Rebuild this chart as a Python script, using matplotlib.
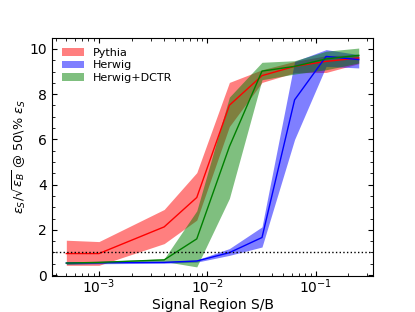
import numpy as np
import matplotlib
matplotlib.use('Agg')
import matplotlib.pyplot as plt

# signal region S/B values
sb = [5e-4, 1e-3, 4e-3, 8e-3, 1.6e-2, 3.2e-2, 6.4e-2, 0.125, 0.25]

# Pythia
py_mid = [0.95, 0.95, 2.13, 3.43, 7.51, 8.82, 9.23, 9.45, 9.6]
py_hi = [1.54, 1.48, 2.9, 4.53, 8.52, 9.08, 9.45, 9.7, 9.75]
py_lo = [0.43, 0.43, 1.39, 2.43, 6.57, 8.52, 8.95, 8.96, 9.35]

# Herwig
hw_mid = [0.53, 0.55, 0.56, 0.62, 0.99, 1.66, 7.75, 9.67, 9.53]
hw_hi = [0.58, 0.6, 0.6, 0.67, 1.17, 2.13, 9.45, 9.97, 9.75]
hw_lo = [0.48, 0.5, 0.52, 0.57, 0.87, 1.24, 6.0, 9.23, 9.16]

# Herwig+DCTR
dc_mid = [0.53, 0.56, 0.67, 1.6, 5.68, 9.02, 9.23, 9.56, 9.72]
dc_hi = [0.58, 0.6, 0.72, 2.84, 7.87, 9.41, 9.48, 9.9, 10.04]
dc_lo = [0.48, 0.52, 0.6, 0.36, 3.39, 8.64, 8.89, 9.08, 9.38]

fig = plt.figure(figsize=(4.15, 3.12), dpi=100)
ax = fig.add_axes([0.1246, 0.1163, 0.775, 0.763])

ax.fill_between(sb, py_lo, py_hi, color='red', alpha=0.5, lw=0, label='Pythia')
ax.plot(sb, py_mid, color='red', lw=1)
ax.fill_between(sb, hw_lo, hw_hi, color='blue', alpha=0.5, lw=0, label='Herwig')
ax.plot(sb, hw_mid, color='blue', lw=1)
ax.fill_between(sb, dc_lo, dc_hi, color='green', alpha=0.5, lw=0, label='Herwig+DCTR')
ax.plot(sb, dc_mid, color='green', lw=1)
ax.axhline(1, color='k', ls=':', lw=1)

ax.set_xscale('log')
ax.set_ylim(-0.03, 10.5)
ax.set_xlabel('Signal Region S/B', fontsize=10, labelpad=1.5)
ax.set_ylabel(r'$\epsilon_S/\sqrt{\epsilon_B}$ @ 50\% $\epsilon_S$', fontsize=9.3, labelpad=1)
ax.tick_params(which='both', direction='in', top=True, right=True, labelsize=10)
ax.tick_params(axis='x', pad=1.5)
ax.set_yticks([0, 2, 4, 6, 8, 10])
ax.yaxis.set_minor_locator(matplotlib.ticker.MultipleLocator(0.5))
ax.legend(loc='upper left', frameon=False, fontsize=8, labelspacing=0.25)

fig.savefig('out.png', dpi=100)
